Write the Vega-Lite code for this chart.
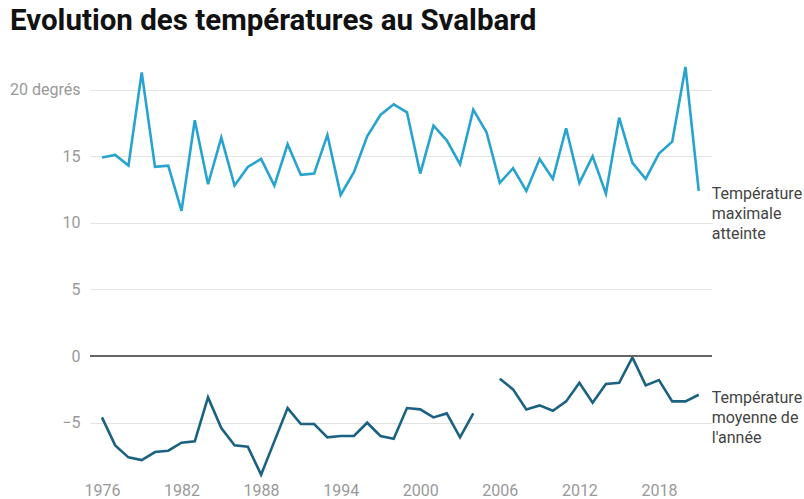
{
  "$schema": "https://vega.github.io/schema/vega-lite/v6.json",
  "autosize": {"type": "none"},
  "width": 622,
  "height": 413,
  "padding": {"left": 90, "top": 63, "right": 92, "bottom": 23},
  "background": "white",
  "config": {
    "view": {"stroke": null},
    "font": "Roboto",
    "title": {"font": "Roboto", "fontSize": 29.5, "fontWeight": "bold", "color": "#111111", "anchor": "start", "frame": "group", "dx": -80, "offset": 25, "baseline": "alphabetic"}
  },
  "title": "Evolution des températures au Svalbard",
  "datasets": {
    "temps": [
      {"annee": 1976, "serie": "max", "valeur": 14.9}, {"annee": 1977, "serie": "max", "valeur": 15.1}, {"annee": 1978, "serie": "max", "valeur": 14.3}, {"annee": 1979, "serie": "max", "valeur": 21.3}, {"annee": 1980, "serie": "max", "valeur": 14.2}, {"annee": 1981, "serie": "max", "valeur": 14.3}, {"annee": 1982, "serie": "max", "valeur": 10.9}, {"annee": 1983, "serie": "max", "valeur": 17.7}, {"annee": 1984, "serie": "max", "valeur": 12.9}, {"annee": 1985, "serie": "max", "valeur": 16.4}, {"annee": 1986, "serie": "max", "valeur": 12.8}, {"annee": 1987, "serie": "max", "valeur": 14.2}, {"annee": 1988, "serie": "max", "valeur": 14.8}, {"annee": 1989, "serie": "max", "valeur": 12.8}, {"annee": 1990, "serie": "max", "valeur": 15.9}, {"annee": 1991, "serie": "max", "valeur": 13.6}, {"annee": 1992, "serie": "max", "valeur": 13.7}, {"annee": 1993, "serie": "max", "valeur": 16.6}, {"annee": 1994, "serie": "max", "valeur": 12.1}, {"annee": 1995, "serie": "max", "valeur": 13.8}, {"annee": 1996, "serie": "max", "valeur": 16.5}, {"annee": 1997, "serie": "max", "valeur": 18.1}, {"annee": 1998, "serie": "max", "valeur": 18.9}, {"annee": 1999, "serie": "max", "valeur": 18.3}, {"annee": 2000, "serie": "max", "valeur": 13.7}, {"annee": 2001, "serie": "max", "valeur": 17.3}, {"annee": 2002, "serie": "max", "valeur": 16.2}, {"annee": 2003, "serie": "max", "valeur": 14.4}, {"annee": 2004, "serie": "max", "valeur": 18.5}, {"annee": 2005, "serie": "max", "valeur": 16.8}, {"annee": 2006, "serie": "max", "valeur": 13.0}, {"annee": 2007, "serie": "max", "valeur": 14.1}, {"annee": 2008, "serie": "max", "valeur": 12.4}, {"annee": 2009, "serie": "max", "valeur": 14.8}, {"annee": 2010, "serie": "max", "valeur": 13.3}, {"annee": 2011, "serie": "max", "valeur": 17.1}, {"annee": 2012, "serie": "max", "valeur": 13.0}, {"annee": 2013, "serie": "max", "valeur": 15.0}, {"annee": 2014, "serie": "max", "valeur": 12.2}, {"annee": 2015, "serie": "max", "valeur": 17.9}, {"annee": 2016, "serie": "max", "valeur": 14.5}, {"annee": 2017, "serie": "max", "valeur": 13.3}, {"annee": 2018, "serie": "max", "valeur": 15.2}, {"annee": 2019, "serie": "max", "valeur": 16.1}, {"annee": 2020, "serie": "max", "valeur": 21.7}, {"annee": 2021, "serie": "max", "valeur": 12.4},
      {"annee": 1976, "serie": "moy", "valeur": -4.6}, {"annee": 1977, "serie": "moy", "valeur": -6.7}, {"annee": 1978, "serie": "moy", "valeur": -7.6}, {"annee": 1979, "serie": "moy", "valeur": -7.8}, {"annee": 1980, "serie": "moy", "valeur": -7.2}, {"annee": 1981, "serie": "moy", "valeur": -7.1}, {"annee": 1982, "serie": "moy", "valeur": -6.5}, {"annee": 1983, "serie": "moy", "valeur": -6.4}, {"annee": 1984, "serie": "moy", "valeur": -3.1}, {"annee": 1985, "serie": "moy", "valeur": -5.4}, {"annee": 1986, "serie": "moy", "valeur": -6.7}, {"annee": 1987, "serie": "moy", "valeur": -6.8}, {"annee": 1988, "serie": "moy", "valeur": -8.9}, {"annee": 1989, "serie": "moy", "valeur": -6.4}, {"annee": 1990, "serie": "moy", "valeur": -3.9}, {"annee": 1991, "serie": "moy", "valeur": -5.1}, {"annee": 1992, "serie": "moy", "valeur": -5.1}, {"annee": 1993, "serie": "moy", "valeur": -6.1}, {"annee": 1994, "serie": "moy", "valeur": -6.0}, {"annee": 1995, "serie": "moy", "valeur": -6.0}, {"annee": 1996, "serie": "moy", "valeur": -5.0}, {"annee": 1997, "serie": "moy", "valeur": -6.0}, {"annee": 1998, "serie": "moy", "valeur": -6.2}, {"annee": 1999, "serie": "moy", "valeur": -3.9}, {"annee": 2000, "serie": "moy", "valeur": -4.0}, {"annee": 2001, "serie": "moy", "valeur": -4.6}, {"annee": 2002, "serie": "moy", "valeur": -4.3}, {"annee": 2003, "serie": "moy", "valeur": -6.1}, {"annee": 2004, "serie": "moy", "valeur": -4.3}, {"annee": 2005, "serie": "moy", "valeur": null}, {"annee": 2006, "serie": "moy", "valeur": -1.7}, {"annee": 2007, "serie": "moy", "valeur": -2.5}, {"annee": 2008, "serie": "moy", "valeur": -4.0}, {"annee": 2009, "serie": "moy", "valeur": -3.7}, {"annee": 2010, "serie": "moy", "valeur": -4.1}, {"annee": 2011, "serie": "moy", "valeur": -3.4}, {"annee": 2012, "serie": "moy", "valeur": -2.0}, {"annee": 2013, "serie": "moy", "valeur": -3.5}, {"annee": 2014, "serie": "moy", "valeur": -2.1}, {"annee": 2015, "serie": "moy", "valeur": -2.0}, {"annee": 2016, "serie": "moy", "valeur": -0.1}, {"annee": 2017, "serie": "moy", "valeur": -2.2}, {"annee": 2018, "serie": "moy", "valeur": -1.8}, {"annee": 2019, "serie": "moy", "valeur": -3.4}, {"annee": 2020, "serie": "moy", "valeur": -3.4}, {"annee": 2021, "serie": "moy", "valeur": -2.9}
    ],
    "etiquettes": [
      {"annee": 2021, "serie": "max", "valeur": 12.4, "texte": ["Température", "maximale", "atteinte"]},
      {"annee": 2021, "serie": "moy", "valeur": -2.9, "texte": ["Température", "moyenne de", "l'année"]}
    ],
    "zero": [{"valeur": 0}]
  },
  "layer": [
    {
      "data": {"name": "temps"},
      "mark": {"type": "line", "strokeWidth": 2.6, "interpolate": "linear"},
      "encoding": {
        "x": {"field": "annee", "type": "quantitative", "scale": {"domain": [1975.1, 2022], "nice": false, "zero": false},
          "axis": {"values": [1976, 1982, 1988, 1994, 2000, 2006, 2012, 2018], "format": "d", "title": null, "grid": false, "domain": false, "ticks": false, "labelPadding": 6, "labelFontSize": 16, "labelColor": "#999999", "labelFont": "Roboto"}},
        "y": {"field": "valeur", "type": "quantitative", "scale": {"domain": [-9, 22], "nice": false, "zero": false},
          "axis": {"values": [-5, 0, 5, 10, 15, 20], "title": null, "grid": true, "domain": false, "ticks": false, "labelPadding": 10, "labelFontSize": 16, "labelColor": "#999999", "labelFont": "Roboto", "gridColor": "#e3e3e3", "gridWidth": 1, "labelExpr": "datum.value == 20 ? '20 degrés' : datum.label"}},
        "color": {"field": "serie", "type": "nominal", "scale": {"domain": ["max", "moy"], "range": ["#27a3d0", "#1b6282"]}, "legend": null}
      }
    },
    {
      "data": {"name": "zero"},
      "mark": {"type": "rule", "color": "#666666", "strokeWidth": 2},
      "encoding": {"y": {"field": "valeur", "type": "quantitative"}}
    },
    {
      "data": {"name": "etiquettes"},
      "mark": {"type": "text", "align": "left", "baseline": "top", "dx": 13, "dy": -5, "fontSize": 16, "lineHeight": 20, "color": "#444444", "font": "Roboto"},
      "encoding": {
        "x": {"field": "annee", "type": "quantitative"},
        "y": {"field": "valeur", "type": "quantitative"},
        "text": {"field": "texte"}
      }
    }
  ]
}
